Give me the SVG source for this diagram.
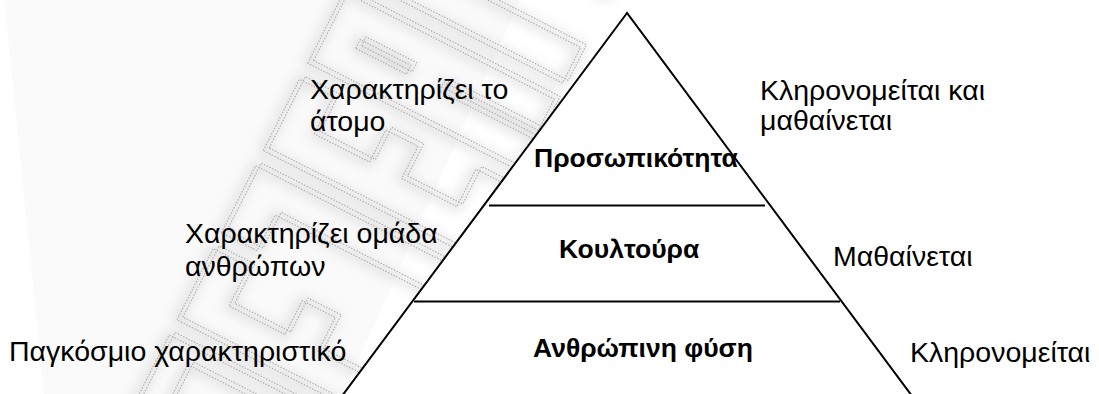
<svg xmlns="http://www.w3.org/2000/svg" width="1099" height="394" viewBox="0 0 1099 394">
  <style>
    .lbl { font-family: "Liberation Sans", Arial, sans-serif; font-size: 28.5px; fill: #000; }
    .lvl { font-family: "Liberation Sans", Arial, sans-serif; font-size: 26.5px; font-weight: bold; fill: #000; }
    .edge { stroke: #000; stroke-width: 2; fill: none; }
    .wm-haze { fill: none; stroke: #cfcfcf; stroke-width: 10; stroke-linejoin: round; }
    .wm-line { fill: none; stroke: #b4b4b4; stroke-width: 1.2; stroke-dasharray: 1.5 1.5; stroke-linejoin: round; }
  </style>
  <defs>
    <filter id="soft" x="-20%" y="-20%" width="140%" height="140%">
      <feGaussianBlur stdDeviation="6"/>
    </filter>
    <!-- blocky outline shapes that make up the background watermark -->
    <g id="wm-shapes">
      <path d="M-290,-118 L-215,-118 L-215,118 L-290,118 Z M-272,-88 L-233,-88 L-233,88 L-272,88 Z"/>
      <path d="M-198,-118 L-118,-118 L-118,-78 L-162,-78 L-162,-15 L-124,-15 L-124,22 L-162,22 L-162,118 L-198,118 Z"/>
      <path d="M-100,-118 L-25,-118 L-25,118 L-60,118 L-60,-78 L-100,-78 Z"/>
      <path d="M-8,-118 L72,-118 L72,-80 L30,-80 L30,-18 L66,-18 L66,18 L30,18 L30,80 L72,80 L72,118 L-8,118 Z"/>
      <path d="M90,-118 L170,-118 L170,118 L135,118 L135,12 L125,12 L125,118 L90,118 Z M125,-82 L135,-82 L135,-25 L125,-25 Z"/>
      <path d="M188,-118 L268,-118 L268,-78 L228,-78 L228,118 L188,118 Z"/>
      <path d="M286,-118 L366,-118 L366,118 L286,118 Z M306,-88 L346,-88 L346,88 L306,88 Z"/>
    </g>
  </defs>

  <rect width="1099" height="394" fill="#ffffff"/>

  <!-- faint background tint and watermark band -->
  <polygon points="4,0 520,0 343,394 44,394" fill="#fafafa"/>
  <g id="watermark" transform="translate(372,197) rotate(-63)">
    <use href="#wm-shapes" class="wm-haze" filter="url(#soft)" opacity="0.55"/>
    <use href="#wm-shapes" class="wm-line"/>
    <use href="#wm-shapes" class="wm-line" transform="translate(5,4)"/>
  </g>

  <!-- pyramid body -->
  <g id="pyramid">
    <polygon points="627,13 339,400 915,400" fill="#ffffff" stroke="#000" stroke-width="2" stroke-linejoin="miter"/>
  </g>

  <!-- level dividers -->
  <g id="connectors">
    <line class="edge" x1="489" y1="205.5" x2="765" y2="205.5"/>
    <line class="edge" x1="414" y1="301.5" x2="840" y2="301.5"/>
  </g>

  <!-- pyramid levels -->
  <g id="level-personality">
    <text class="lvl" x="534" y="167">Προσωπικότητα</text>
  </g>
  <g id="level-culture">
    <text class="lvl" x="559" y="258">Κουλτούρα</text>
  </g>
  <g id="level-human-nature">
    <text class="lvl" x="533" y="357">Ανθρώπινη φύση</text>
  </g>

  <!-- left annotations -->
  <g id="note-individual">
    <text class="lbl" x="310" y="99">Χαρακτηρίζει το</text>
    <text class="lbl" x="310" y="131">άτομο</text>
  </g>
  <g id="note-group">
    <text class="lbl" x="185" y="243">Χαρακτηρίζει ομάδα</text>
    <text class="lbl" x="185" y="276">ανθρώπων</text>
  </g>
  <g id="note-universal">
    <text class="lbl" x="9" y="361">Παγκόσμιο χαρακτηριστικό</text>
  </g>

  <!-- right annotations -->
  <g id="note-inherited-learned">
    <text class="lbl" x="760" y="100">Κληρονομείται και</text>
    <text class="lbl" x="760" y="130">μαθαίνεται</text>
  </g>
  <g id="note-learned">
    <text class="lbl" x="833" y="266">Μαθαίνεται</text>
  </g>
  <g id="note-inherited">
    <text class="lbl" x="910" y="362">Κληρονομείται</text>
  </g>
</svg>
